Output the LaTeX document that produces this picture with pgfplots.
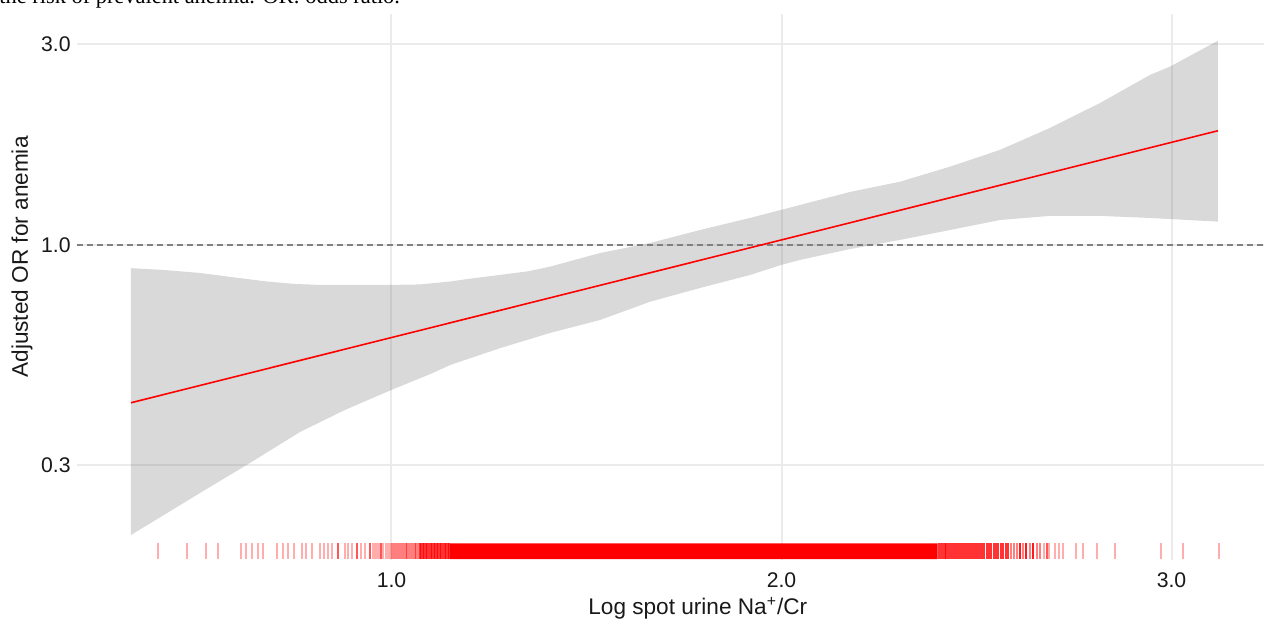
\documentclass[border=0pt]{standalone}
\usepackage{fontspec}
\setmainfont{Liberation Sans}
\newfontfamily\capfont{Liberation Serif}
\usepackage{pgfplots}
\usepackage{pgfplotstable}
\pgfplotsset{compat=1.18}
\definecolor{gridc}{RGB}{235,235,235}
\definecolor{dashc}{RGB}{128,128,128}

% confidence band: upper edge left to right, then lower edge right to left
\pgfplotstableread{
x y
0.332 0.880
0.419 0.871
0.509 0.857
0.599 0.836
0.681 0.818
0.753 0.807
0.817 0.803
0.999 0.803
1.073 0.805
1.150 0.818
1.194 0.829
1.278 0.848
1.350 0.865
1.406 0.887
1.535 0.956
1.663 1.010
1.791 1.084
1.919 1.158
1.999 1.210
2.047 1.243
2.176 1.335
2.304 1.412
2.432 1.533
2.560 1.680
2.688 1.894
2.817 2.172
2.945 2.532
2.996 2.649
3.119 3.053
3.119 1.135
2.945 1.158
2.817 1.171
2.688 1.171
2.560 1.145
2.432 1.084
2.304 1.027
2.176 0.9770
2.047 0.9203
1.999 0.8954
1.919 0.8477
1.791 0.7896
1.663 0.7325
1.535 0.6630
1.406 0.6172
1.278 0.5680
1.150 0.5180
1.106 0.4960
0.999 0.4518
0.880 0.4050
0.765 0.3591
0.637 0.3032
0.509 0.2573
0.332 0.2045
}\band

\pgfplotstableread{
x y
0.332 0.4215
1.950 1.000
3.119 1.866
}\fitline

% rug: sparse observations
\pgfplotstableread{
x y
0.402 0.1871
0.475 0.1871
0.524 0.1871
0.554 0.1871
0.614 0.1871
0.627 0.1871
0.643 0.1871
0.658 0.1871
0.671 0.1871
0.706 0.1871
0.721 0.1871
0.735 0.1871
0.751 0.1871
0.770 0.1871
0.781 0.1871
0.795 0.1871
0.817 0.1871
0.827 0.1871
0.838 0.1871
0.847 0.1871
0.864 0.1871
0.881 0.1871
0.889 0.1871
0.898 0.1871
0.911 0.1871
0.921 0.1871
0.932 0.1871
0.945 0.1871
0.952 0.1871
0.957 0.1871
0.963 0.1871
0.968 0.1871
0.974 0.1871
0.979 0.1871
0.985 0.1871
0.990 0.1871
0.996 0.1871
2.672 0.1871
2.681 0.1871
2.686 0.1871
2.702 0.1871
2.712 0.1871
2.721 0.1871
2.755 0.1871
2.772 0.1871
2.810 0.1871
2.855 0.1871
2.973 0.1871
3.029 0.1871
3.123 0.1871
}\rugA

% rug: denser observations
\pgfplotstableread{
x y
0.864 0.1871
0.911 0.1871
0.945 0.1871
0.974 0.1871
1.001 0.1871
1.006 0.1871
1.011 0.1871
1.016 0.1871
1.021 0.1871
1.026 0.1871
1.031 0.1871
1.036 0.1871
1.041 0.1871
1.045 0.1871
1.050 0.1871
1.054 0.1871
1.059 0.1871
1.063 0.1871
1.068 0.1871
2.589 0.1871
2.596 0.1871
2.603 0.1871
2.611 0.1871
2.619 0.1871
2.627 0.1871
2.636 0.1871
2.645 0.1871
2.654 0.1871
2.663 0.1871
2.681 0.1871
}\rugB

% rug: dense observations
\pgfplotstableread{
x y
1.072 0.1871
1.076 0.1871
1.080 0.1871
1.084 0.1871
1.088 0.1871
1.092 0.1871
1.096 0.1871
1.100 0.1871
1.104 0.1871
1.108 0.1871
1.112 0.1871
1.116 0.1871
1.120 0.1871
1.124 0.1871
1.128 0.1871
1.132 0.1871
1.136 0.1871
1.140 0.1871
1.144 0.1871
1.148 0.1871
2.403 0.1871
2.408 0.1871
2.413 0.1871
2.418 0.1871
2.423 0.1871
2.428 0.1871
2.433 0.1871
2.438 0.1871
2.443 0.1871
2.448 0.1871
2.453 0.1871
2.458 0.1871
2.463 0.1871
2.468 0.1871
2.473 0.1871
2.478 0.1871
2.483 0.1871
2.488 0.1871
2.493 0.1871
2.498 0.1871
2.503 0.1871
2.508 0.1871
2.514 0.1871
2.520 0.1871
2.526 0.1871
2.532 0.1871
2.538 0.1871
2.544 0.1871
2.550 0.1871
2.556 0.1871
2.562 0.1871
2.568 0.1871
2.575 0.1871
2.582 0.1871
2.611 0.1871
2.627 0.1871
2.645 0.1871
}\rugC

\begin{document}
\begin{tikzpicture}
\useasboundingbox (-38.5pt,-29.5pt) rectangle (593.5pt,280pt);
\node[anchor=base west, inner sep=0pt, font=\capfont\fontsize{11.2}{13}\selectfont] at (-39pt,278pt) {the risk of prevalent anemia. OR: odds ratio.};
\begin{axis}[
  at={(0pt,0pt)}, anchor=south west,
  scale only axis, width=593.5pt, height=273pt,
  xmin=0.19359, xmax=3.2372,
  ymode=log, ymin=0.17838, ymax=3.5336,
  axis line style={draw=none},
  major tick length=0pt, minor tick num=0,
  xtick={1,2,3}, xticklabels={1.0,2.0,3.0},
  ytick={0.3,1,3}, yticklabels={0.3,1.0,3.0},
  /pgf/number format/assume math mode=true,
  grid=major, major grid style={gridc, line width=1pt},
  tick label style={font=\fontsize{10.6}{12}\selectfont, text=black!90},
  xticklabel style={anchor=base, inner sep=0pt, yshift=-14pt},
  yticklabel style={anchor=east, inner sep=0pt, xshift=-3pt},
  xlabel={Log spot urine Na\textsuperscript{+}/Cr},
  ylabel={Adjusted OR for anemia},
  label style={font=\fontsize{11.3}{13}\selectfont, text=black!90},
  xlabel style={at={(axis description cs:0.523,-0.0989)}, anchor=base, inner sep=0pt},
  ylabel style={at={(axis description cs:-0.04634,0.555)}, anchor=center, inner sep=0pt},
]
\addplot[fill=black!50, fill opacity=0.3, draw=none] table {\band};
\addplot[dashc, line width=1pt, dash pattern=on 3pt off 2pt] coordinates {(0.19359,1) (3.2372,1)};
\addplot[red, line width=0.8pt] table {\fitline};
\addplot[fill=red, draw=none] coordinates {(1.15,0.1791) (2.40,0.1791) (2.40,0.1954) (1.15,0.1954) (1.15,0.1791)};
\addplot[only marks, mark=|, mark size=4pt, red, mark options={line width=1pt, opacity=0.32}] table {\rugA};
\addplot[only marks, mark=|, mark size=4pt, red, mark options={line width=1pt, opacity=0.5}] table {\rugB};
\addplot[only marks, mark=|, mark size=4pt, red, mark options={line width=1pt, opacity=0.8}] table {\rugC};
\end{axis}
\end{tikzpicture}
\end{document}
